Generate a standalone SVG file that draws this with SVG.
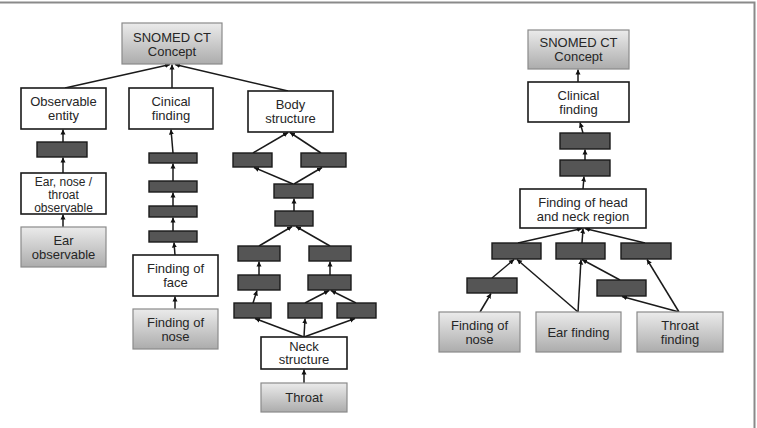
<svg xmlns="http://www.w3.org/2000/svg" width="757" height="428" viewBox="0 0 757 428">
<defs>
<linearGradient id="g" x1="0" y1="0" x2="0" y2="1">
<stop offset="0" stop-color="#ebebeb"/>
<stop offset="1" stop-color="#acacac"/>
</linearGradient>
<marker id="ah" markerUnits="userSpaceOnUse" markerWidth="6" markerHeight="6" refX="5" refY="3" orient="auto">
<path d="M0,0.5 L5,3 L0,5.5 z" fill="#111"/>
</marker>
<style>
.w{fill:#fff;stroke:#1a1a1a;stroke-width:1.6}
.gr{fill:url(#g);stroke:#8a8a8a;stroke-width:1.2}
.d{fill:#555;stroke:#1a1a1a;stroke-width:1.4}
text{font-family:"Liberation Sans",Arial,sans-serif;font-size:13px;fill:#262626;text-anchor:middle}
text.s{font-size:12px}
#conn line{stroke:#1a1a1a;stroke-width:1.5;marker-end:url(#ah)}
</style>
</defs>
<rect width="757" height="428" fill="#fff"/>
<path d="M0,2.5 H754.5 V428" fill="none" stroke="#8a8a8a" stroke-width="2"/>

<g id="conn">
<line x1="65" y1="88" x2="170" y2="64.5"/>
<line x1="172" y1="88" x2="172" y2="64.5"/>
<line x1="288" y1="91" x2="175" y2="64.5"/>
<line x1="63" y1="142" x2="63" y2="129.5"/>
<line x1="63" y1="173" x2="63" y2="157.5"/>
<line x1="63" y1="227" x2="63" y2="214.5"/>
<line x1="173" y1="153" x2="171" y2="129.5"/>
<line x1="173" y1="181" x2="173" y2="163.5"/>
<line x1="173" y1="206" x2="173" y2="192.5"/>
<line x1="173" y1="231" x2="173" y2="217.5"/>
<line x1="175" y1="255" x2="174" y2="242.5"/>
<line x1="175" y1="309" x2="175" y2="296.5"/>
<line x1="253" y1="153" x2="288" y2="132.5"/>
<line x1="321" y1="153" x2="290" y2="132.5"/>
<line x1="293" y1="184" x2="254" y2="167.5"/>
<line x1="294" y1="184" x2="322" y2="167.5"/>
<line x1="294" y1="211" x2="294" y2="198.5"/>
<line x1="259" y1="246" x2="292" y2="226.5"/>
<line x1="330" y1="246" x2="296" y2="226.5"/>
<line x1="259" y1="275" x2="259" y2="261.5"/>
<line x1="330" y1="275" x2="330" y2="261.5"/>
<line x1="253" y1="303" x2="257" y2="290.5"/>
<line x1="305" y1="303" x2="329" y2="290.5"/>
<line x1="356" y1="303" x2="331" y2="290.5"/>
<line x1="304" y1="337" x2="255" y2="318.5"/>
<line x1="304" y1="337" x2="305" y2="318.5"/>
<line x1="304" y1="337" x2="355" y2="318.5"/>
<line x1="304" y1="383" x2="304" y2="369.5"/>
<line x1="578" y1="82" x2="578" y2="69.5"/>
<line x1="583" y1="133" x2="580" y2="122.5"/>
<line x1="585" y1="160" x2="585" y2="149.5"/>
<line x1="583" y1="189" x2="584" y2="176.5"/>
<line x1="518" y1="243" x2="582" y2="228.5"/>
<line x1="582" y1="243" x2="583" y2="228.5"/>
<line x1="645" y1="243" x2="585" y2="228.5"/>
<line x1="492" y1="278" x2="514" y2="259.5"/>
<line x1="480" y1="312" x2="491" y2="293.5"/>
<line x1="578" y1="312" x2="517" y2="259.5"/>
<line x1="578" y1="312" x2="581" y2="259.5"/>
<line x1="620" y1="280" x2="582" y2="259.5"/>
<line x1="679" y1="312" x2="622" y2="296.5"/>
<line x1="679" y1="312" x2="647" y2="259.5"/>
</g>

<g id="snomed-left"><rect class="gr" x="122" y="23" width="100" height="41"/><text x="172" y="41.5">SNOMED CT</text><text x="172" y="55.5">Concept</text></g>
<g id="observable-entity"><rect class="w" x="21" y="88" width="85" height="41"/><text x="63.5" y="106">Observable</text><text x="63.5" y="120">entity</text></g>
<g id="cinical-finding"><rect class="w" x="129" y="88" width="84" height="41"/><text x="171" y="106">Cinical</text><text x="171" y="120">finding</text></g>
<g id="body-structure"><rect class="w" x="248" y="91" width="85" height="41"/><text x="290.5" y="109">Body</text><text x="290.5" y="123">structure</text></g>

<g id="l-d1"><rect class="d" x="37" y="142" width="50" height="15"/></g>
<g id="ent-observable"><rect class="w" x="21" y="173" width="85" height="41"/><text class="s" x="63.5" y="185.5">Ear, nose /</text><text class="s" x="63.5" y="198.5">throat</text><text class="s" x="63.5" y="211.5">observable</text></g>
<g id="ear-observable"><rect class="gr" x="21" y="227" width="85" height="40"/><text x="63.5" y="245">Ear</text><text x="63.5" y="259">observable</text></g>

<g id="c-d1"><rect class="d" x="149" y="153" width="48" height="10"/></g>
<g id="c-d2"><rect class="d" x="149" y="181" width="48" height="11"/></g>
<g id="c-d3"><rect class="d" x="149" y="206" width="48" height="11"/></g>
<g id="c-d4"><rect class="d" x="149" y="231" width="48" height="11"/></g>
<g id="finding-face"><rect class="w" x="133" y="255" width="85" height="41"/><text x="175.5" y="273">Finding of</text><text x="175.5" y="287">face</text></g>
<g id="finding-nose-left"><rect class="gr" x="133" y="309" width="85" height="40"/><text x="175.5" y="327">Finding of</text><text x="175.5" y="341">nose</text></g>

<g id="b-d1"><rect class="d" x="233" y="153" width="39" height="14"/></g>
<g id="b-d2"><rect class="d" x="301" y="153" width="45" height="14"/></g>
<g id="b-d3"><rect class="d" x="274" y="184" width="39" height="14"/></g>
<g id="b-d4"><rect class="d" x="275" y="211" width="38" height="15"/></g>
<g id="b-d5"><rect class="d" x="238" y="246" width="42" height="15"/></g>
<g id="b-d6"><rect class="d" x="309" y="246" width="42" height="15"/></g>
<g id="b-d7"><rect class="d" x="238" y="275" width="42" height="15"/></g>
<g id="b-d8"><rect class="d" x="308" y="275" width="43" height="15"/></g>
<g id="b-d9"><rect class="d" x="234" y="303" width="37" height="15"/></g>
<g id="b-d10"><rect class="d" x="288" y="303" width="34" height="15"/></g>
<g id="b-d11"><rect class="d" x="337" y="303" width="39" height="15"/></g>
<g id="neck-structure"><rect class="w" x="261" y="337" width="86" height="32"/><text x="304" y="350.5">Neck</text><text x="304" y="364">structure</text></g>
<g id="throat"><rect class="gr" x="261" y="383" width="86" height="29"/><text x="304" y="402">Throat</text></g>

<g id="snomed-right"><rect class="gr" x="528" y="30" width="101" height="39"/><text x="578.5" y="47">SNOMED CT</text><text x="578.5" y="61">Concept</text></g>
<g id="clinical-finding"><rect class="w" x="528" y="82" width="101" height="40"/><text x="578.5" y="100">Clinical</text><text x="578.5" y="114">finding</text></g>
<g id="r-d1"><rect class="d" x="560" y="133" width="50" height="16"/></g>
<g id="r-d2"><rect class="d" x="560" y="160" width="50" height="16"/></g>
<g id="head-neck"><rect class="w" x="520" y="189" width="126" height="39"/><text x="583" y="207">Finding of head</text><text x="583" y="221">and neck region</text></g>
<g id="r-d3"><rect class="d" x="492" y="243" width="49" height="16"/></g>
<g id="r-d4"><rect class="d" x="556" y="243" width="49" height="16"/></g>
<g id="r-d5"><rect class="d" x="621" y="243" width="50" height="16"/></g>
<g id="r-d6"><rect class="d" x="467" y="278" width="50" height="15"/></g>
<g id="r-d7"><rect class="d" x="597" y="280" width="49" height="16"/></g>
<g id="finding-nose-right"><rect class="gr" x="439" y="312" width="81" height="40"/><text x="479.5" y="330">Finding of</text><text x="479.5" y="344">nose</text></g>
<g id="ear-finding"><rect class="gr" x="536" y="312" width="85" height="40"/><text x="578.5" y="336.5">Ear finding</text></g>
<g id="throat-finding"><rect class="gr" x="637" y="312" width="86" height="40"/><text x="680" y="330">Throat</text><text x="680" y="344">finding</text></g>
</svg>
